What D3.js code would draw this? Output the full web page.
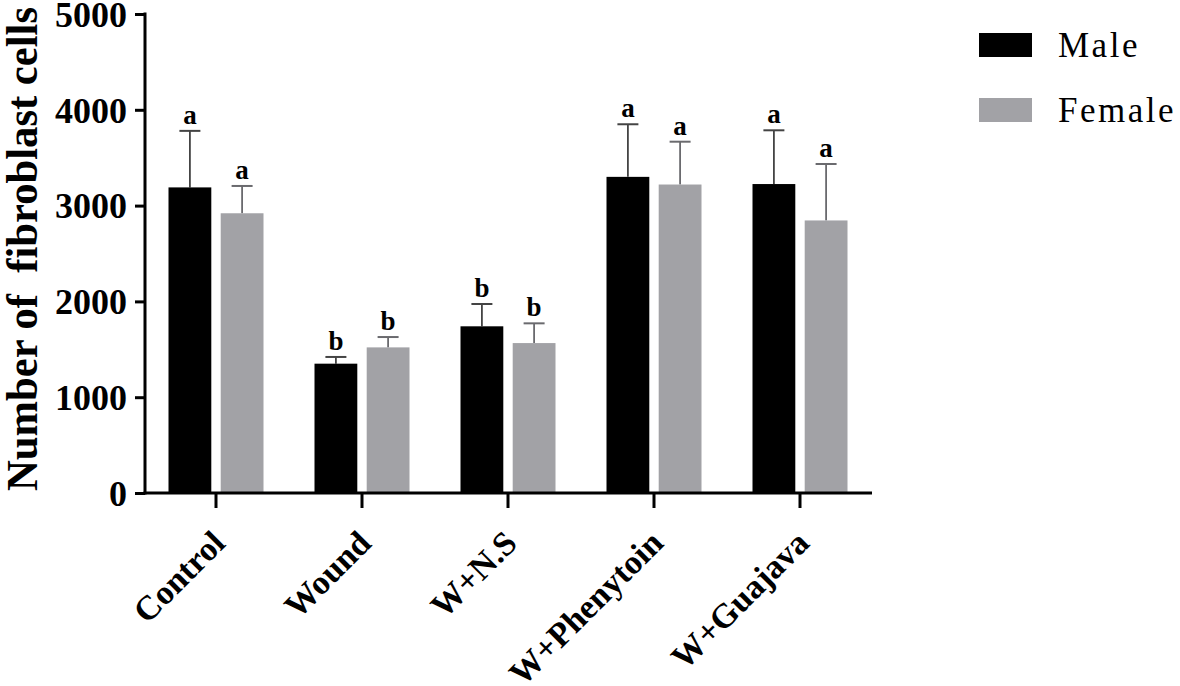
<!DOCTYPE html>
<html>
<head>
<meta charset="utf-8">
<script src="https://cdn.jsdelivr.net/npm/d3@7"></script>
<style>
  body { margin: 0; background: #fff; }
  svg { display: block; font-family: "Liberation Serif", "Times New Roman", serif; }
</style>
</head>
<body>
<svg width="1180" height="686"></svg>
<script>

// data
var groups = ["Control", "Wound", "W+N.S", "W+Phenytoin", "W+Guajava"];
var sexes = ["Male", "Female"];
var maleMean = [3190, 1350, 1740, 3300, 3225];
var maleErr = [590, 70, 233, 549, 561];
var femaleMean = [2920, 1520, 1565, 3220, 2845];
var femaleErr = [285, 108, 206, 447, 589];
var maleSig = ["a", "b", "b", "a", "a"];
var femaleSig = ["a", "b", "b", "a", "a"];
var yTicks = [0, 1000, 2000, 3000, 4000, 5000];

var colours = { Male: "#000000", Female: "#a2a2a6" };
var errColours = { Male: "#444444", Female: "#6a6a6e" };

var svg = d3.select("svg");

// scales
var y = d3.scaleLinear().domain([0, 5000]).range([493, 14]);

var x0 = d3.scaleBand()
    .domain(groups)
    .range([143, 873])
    .padding(0);

var x1 = d3.scaleBand()
    .domain(sexes)
    .range([25.5, 120.5])
    .paddingInner(0.18);

// build rows for the bars
var rows = [];
groups.forEach(function(g, i) {
  rows.push({ group: g, sex: "Male", mean: maleMean[i], err: maleErr[i], sig: maleSig[i] });
  rows.push({ group: g, sex: "Female", mean: femaleMean[i], err: femaleErr[i], sig: femaleSig[i] });
});

var bars = svg.append("g").attr("class", "bars");

// error bars first, the bar covers the lower part
var eb = bars.selectAll(".err")
  .data(rows)
  .enter().append("g")
  .attr("class", "err")
  .attr("transform", d => "translate(" + (x0(d.group) + x1(d.sex) + x1.bandwidth() / 2) + ",0)");

eb.append("line")
  .attr("x1", 0).attr("x2", 0)
  .attr("y1", d => y(d.mean))
  .attr("y2", d => y(d.mean + d.err))
  .attr("stroke", d => errColours[d.sex])
  .attr("stroke-width", 1.8);

eb.append("line")
  .attr("x1", -10.5).attr("x2", 10.5)
  .attr("y1", d => y(d.mean + d.err))
  .attr("y2", d => y(d.mean + d.err))
  .attr("stroke", d => errColours[d.sex])
  .attr("stroke-width", 2);

eb.append("text")
  .attr("x", 0)
  .attr("y", d => y(d.mean + d.err) - 7)
  .attr("text-anchor", "middle")
  .style("font-size", "27px")
  .style("font-weight", "bold")
  .text(d => d.sig);

bars.selectAll("rect")
  .data(rows)
  .enter().append("rect")
  .attr("x", d => x0(d.group) + x1(d.sex))
  .attr("width", x1.bandwidth())
  .attr("y", d => y(d.mean))
  .attr("height", d => y(0) - y(d.mean))
  .attr("fill", d => colours[d.sex]);

// y axis
var yAxis = svg.append("g")
  .attr("transform", "translate(145,0)")
  .call(d3.axisLeft(y).tickValues(yTicks).tickFormat(d3.format("d")).tickSize(10).tickSizeOuter(0).tickPadding(8));

yAxis.select(".domain").attr("stroke-width", 3).attr("d", "M0," + (y(5000) - 1.5) + "V" + (y(0) + 1.5));
yAxis.selectAll(".tick line").attr("stroke-width", 3);
yAxis.selectAll(".tick text")
  .attr("dy", "0.34em")
  .style("font-family", "'Liberation Serif', serif")
  .style("font-size", "36px")
  .style("font-weight", "bold")
  .attr("fill", "#000");

// x axis
var xAxis = svg.append("g")
  .attr("transform", "translate(0," + y(0) + ")")
  .call(d3.axisBottom(x0).tickSize(15).tickSizeOuter(0).tickFormat(""));

xAxis.select(".domain").attr("stroke-width", 3).attr("d", "M143.5,0H872");
xAxis.selectAll(".tick line").attr("stroke-width", 3);

// rotated category labels
svg.append("g").selectAll("text")
  .data(groups)
  .enter().append("text")
  .attr("transform", d => "translate(" + (x0(d) + x0.bandwidth() / 2 + 11) + ",545) rotate(-45)")
  .attr("text-anchor", "end")
  .style("font-size", "34px")
  .style("font-weight", "bold")
  .text(d => d);

// y title
svg.append("text")
  .attr("transform", "translate(37,249) rotate(-90)")
  .attr("text-anchor", "middle")
  .attr("textLength", 484)
  .attr("lengthAdjust", "spacingAndGlyphs")
  .style("font-size", "44px")
  .style("font-weight", "bold")
  .style("white-space", "pre")
  .text("Number of  fibroblast cells");

// legend
var legend = svg.append("g").selectAll("g")
  .data(sexes)
  .enter().append("g")
  .attr("transform", (d, i) => "translate(979," + (33 + i * 65) + ")");

legend.append("rect")
  .attr("width", 53)
  .attr("height", 24)
  .attr("fill", d => colours[d]);

legend.append("text")
  .attr("x", 79)
  .attr("y", 24)
  .style("font-size", "35px")
  .style("letter-spacing", "2.5px")
  .text(d => d);

</script>
</body>
</html>
